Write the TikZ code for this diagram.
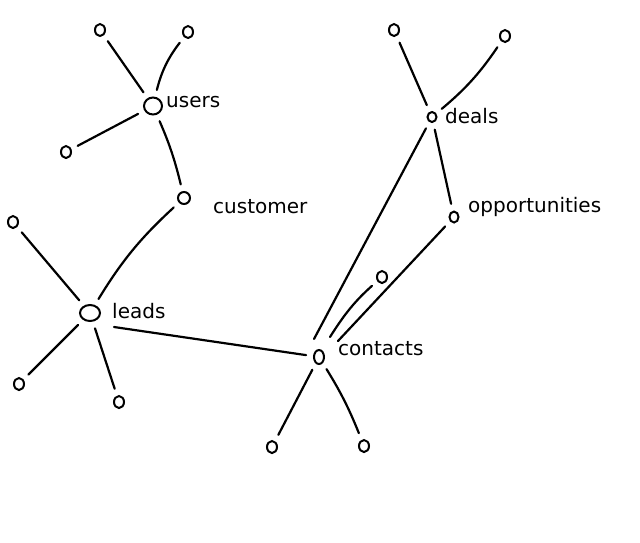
\documentclass[tikz,border=0pt]{standalone}
\usepackage{fontspec}
\setmainfont{DejaVu Sans}
\usetikzlibrary{shapes.geometric}
\begin{document}
\begin{tikzpicture}[x=1pt,y=-1pt,
  ln/.style={line width=2.2pt, line cap=round, shorten <=7pt, shorten >=7pt},
  fan/.style={shorten <=0pt},
  hub/.style={draw, line width=2pt, ellipse, inner sep=0pt, minimum width=18pt, minimum height=17pt},
  leaf/.style={draw, line width=2pt, ellipse, inner sep=0pt, minimum width=10pt, minimum height=12pt},
  lbl/.style={anchor=west, font=\fontsize{20}{24}\selectfont, inner sep=0pt}]
\useasboundingbox (0,0) rectangle (640,542);
% hubs
\node[hub] (users) at (153,106) {};
\node[hub, minimum width=20pt, minimum height=16pt] (leads) at (90,313) {};
\node[leaf, minimum width=10pt, minimum height=14pt] (contacts) at (319,357) {};
\node[leaf, minimum width=9pt, minimum height=10pt] (deals) at (432,117) {};
\node[leaf, minimum width=9pt, minimum height=11pt] (opp) at (454,217) {};
\node[leaf, minimum width=12pt, minimum height=12pt] (customer) at (184,198) {};
% labels
\node[lbl] (usersl) at (166,102) {users};
\node[lbl] (leadsl) at (112,311) {leads};
\node[lbl] (contactsl) at (338,349) {contacts};
\node[lbl] (dealsl) at (445,116) {deals};
\node[lbl] (oppl) at (468,207) {opportunities};
\node[lbl] (custl) at (213,207) {customer};
% leaves
\node[leaf] (u1) at (100,30) {};
\node[leaf] (u2) at (188,32) {};
\node[leaf] (u3) at (66,152) {};
\node[leaf] (l1) at (13,222) {};
\node[leaf] (l2) at (19,384) {};
\node[leaf] (l3) at (119,402) {};
\node[leaf] (c1) at (272,447) {};
\node[leaf] (c2) at (364,446) {};
\node[leaf] (c3) at (382,277) {};
\node[leaf] (d1) at (394,30) {};
\node[leaf] (d2) at (505,36) {};
% edges
\draw[ln] (users) -- (u1);
\draw[ln] (users) to[bend left=12] (u2);
\draw[ln] (users) -- (u3);
\draw[ln] (users) to[bend left=5] (customer);
\draw[ln] (leads) to[bend left=8] (customer);
\draw[ln] (leads) -- (l1);
\draw[ln] (leads) -- (l2);
\draw[ln] (leads) -- (l3);
\draw[ln, fan] ([shift={(13,14)}]leads.east) -- (contacts);
\draw[ln] (contacts) -- (c1);
\draw[ln] (contacts) to[bend left=5] (c2);
\draw[ln, fan] ([shift={(-5,-10)}]contacts.north) -- (deals);
\draw[ln, fan] ([shift={(11,-12)}]contacts.north) to[bend left=8] (c3);
\draw[ln, fan] ([shift={(19,-8)}]contacts.north) -- (opp);
\draw[ln] (deals) -- (opp);
\draw[ln] (deals) -- (d1);
\draw[ln] (deals) to[bend right=8] (d2);
\end{tikzpicture}
\end{document}
